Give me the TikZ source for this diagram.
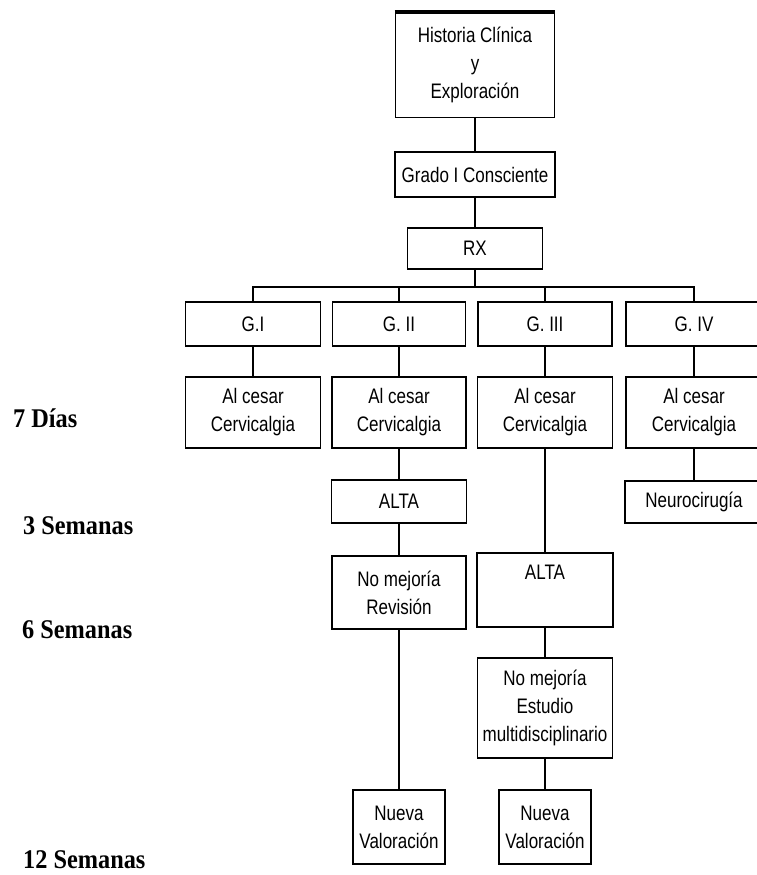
\documentclass[tikz,border=0pt]{standalone}
\usepackage{fontspec}
\setmainfont{Liberation Sans}[FakeStretch=0.81]
\newfontfamily\weekfont{Liberation Serif}[FakeStretch=0.9]
\tikzset{
    flow box/.style = {draw, line width=1.6pt, align=center, inner sep=0pt, font=\fontsize{21}{28}\selectfont},
    flow edge/.style = {draw, line width=1.6pt},
    week label/.style = {anchor=base west, inner sep=0pt, font=\weekfont\bfseries\fontsize{27}{30}\selectfont},
}
\begin{document}
\begin{tikzpicture}[x=1pt, y=-1pt]
    \useasboundingbox (0, 0) rectangle (757, 875);

    \node[flow box, minimum width=159, minimum height=105] (hist) at (475, 65) {Historia Clínica\\y\\Exploración};
    \node[flow box, minimum width=160, minimum height=45] (grado) at (475, 174.5) {Grado I Consciente};
    \node[flow box, minimum width=135, minimum height=41] (rx) at (475, 248.5) {RX};
    \coordinate (bus) at (475, 287);

    \node[flow box, minimum width=135, minimum height=44] (g1) at (253, 324) {G.I};
    \node[flow box, minimum width=133, minimum height=44] (g2) at (399, 324) {G. II};
    \node[flow box, minimum width=134, minimum height=44] (g3) at (545, 324) {G. III};
    \node[flow box, minimum width=136, minimum height=44] (g4) at (694, 324) {G. IV};

    \node[flow box, minimum width=135, minimum height=71] (c1) at (253, 412.5) {Al cesar\\Cervicalgia};
    \node[flow box, minimum width=134, minimum height=71] (c2) at (399, 412.5) {Al cesar\\Cervicalgia};
    \node[flow box, minimum width=135, minimum height=71] (c3) at (545, 412.5) {Al cesar\\Cervicalgia};
    \node[flow box, minimum width=136, minimum height=71] (c4) at (694, 412.5) {Al cesar\\Cervicalgia};

    \node[flow box, minimum width=135, minimum height=43] (alta2) at (399, 501.5) {ALTA};
    \node[flow box, minimum width=138, minimum height=42] (neuro) at (694, 502) {Neurocirugía};
    \node[flow box, minimum width=134, minimum height=73] (rev) at (399, 592.5) {No mejoría\\Revisión};
    \node[flow box, minimum width=136, minimum height=74] (alta3) at (545, 590) {ALTA\\\strut};
    \node[flow box, minimum width=135, minimum height=100] (est) at (545, 708) {No mejoría\\Estudio\\multidisciplinario};
    \node[flow box, minimum width=92, minimum height=74] (nv2) at (399, 827) {Nueva\\Valoración};
    \node[flow box, minimum width=92, minimum height=74] (nv3) at (545, 827) {Nueva\\Valoración};

    \node[week label] (w7d) at (13, 427) {7 Días};
    \node[week label] (w3s) at (23, 534) {3 Semanas};
    \node[week label] (w6s) at (22, 638) {6 Semanas};
    \node[week label] (w12s) at (23, 868) {12 Semanas};

    \draw[line width=4pt] (hist.north west) -- (hist.north east);
    \draw[flow edge] (hist) -- (grado) -- (rx) -- (bus);
    \draw[flow edge] (g1.north) -- (g1 |- bus) -- (g4 |- bus) -- (g4.north);
    \draw[flow edge] (g2.north) -- (g2 |- bus);
    \draw[flow edge] (g3.north) -- (g3 |- bus);
    \draw[flow edge] (g1) -- (c1);
    \draw[flow edge] (g2) -- (c2) -- (alta2) -- (rev) -- (nv2);
    \draw[flow edge] (g3) -- (c3) -- (alta3) -- (est) -- (nv3);
    \draw[flow edge] (g4) -- (c4) -- (neuro);
\end{tikzpicture}
\end{document}
